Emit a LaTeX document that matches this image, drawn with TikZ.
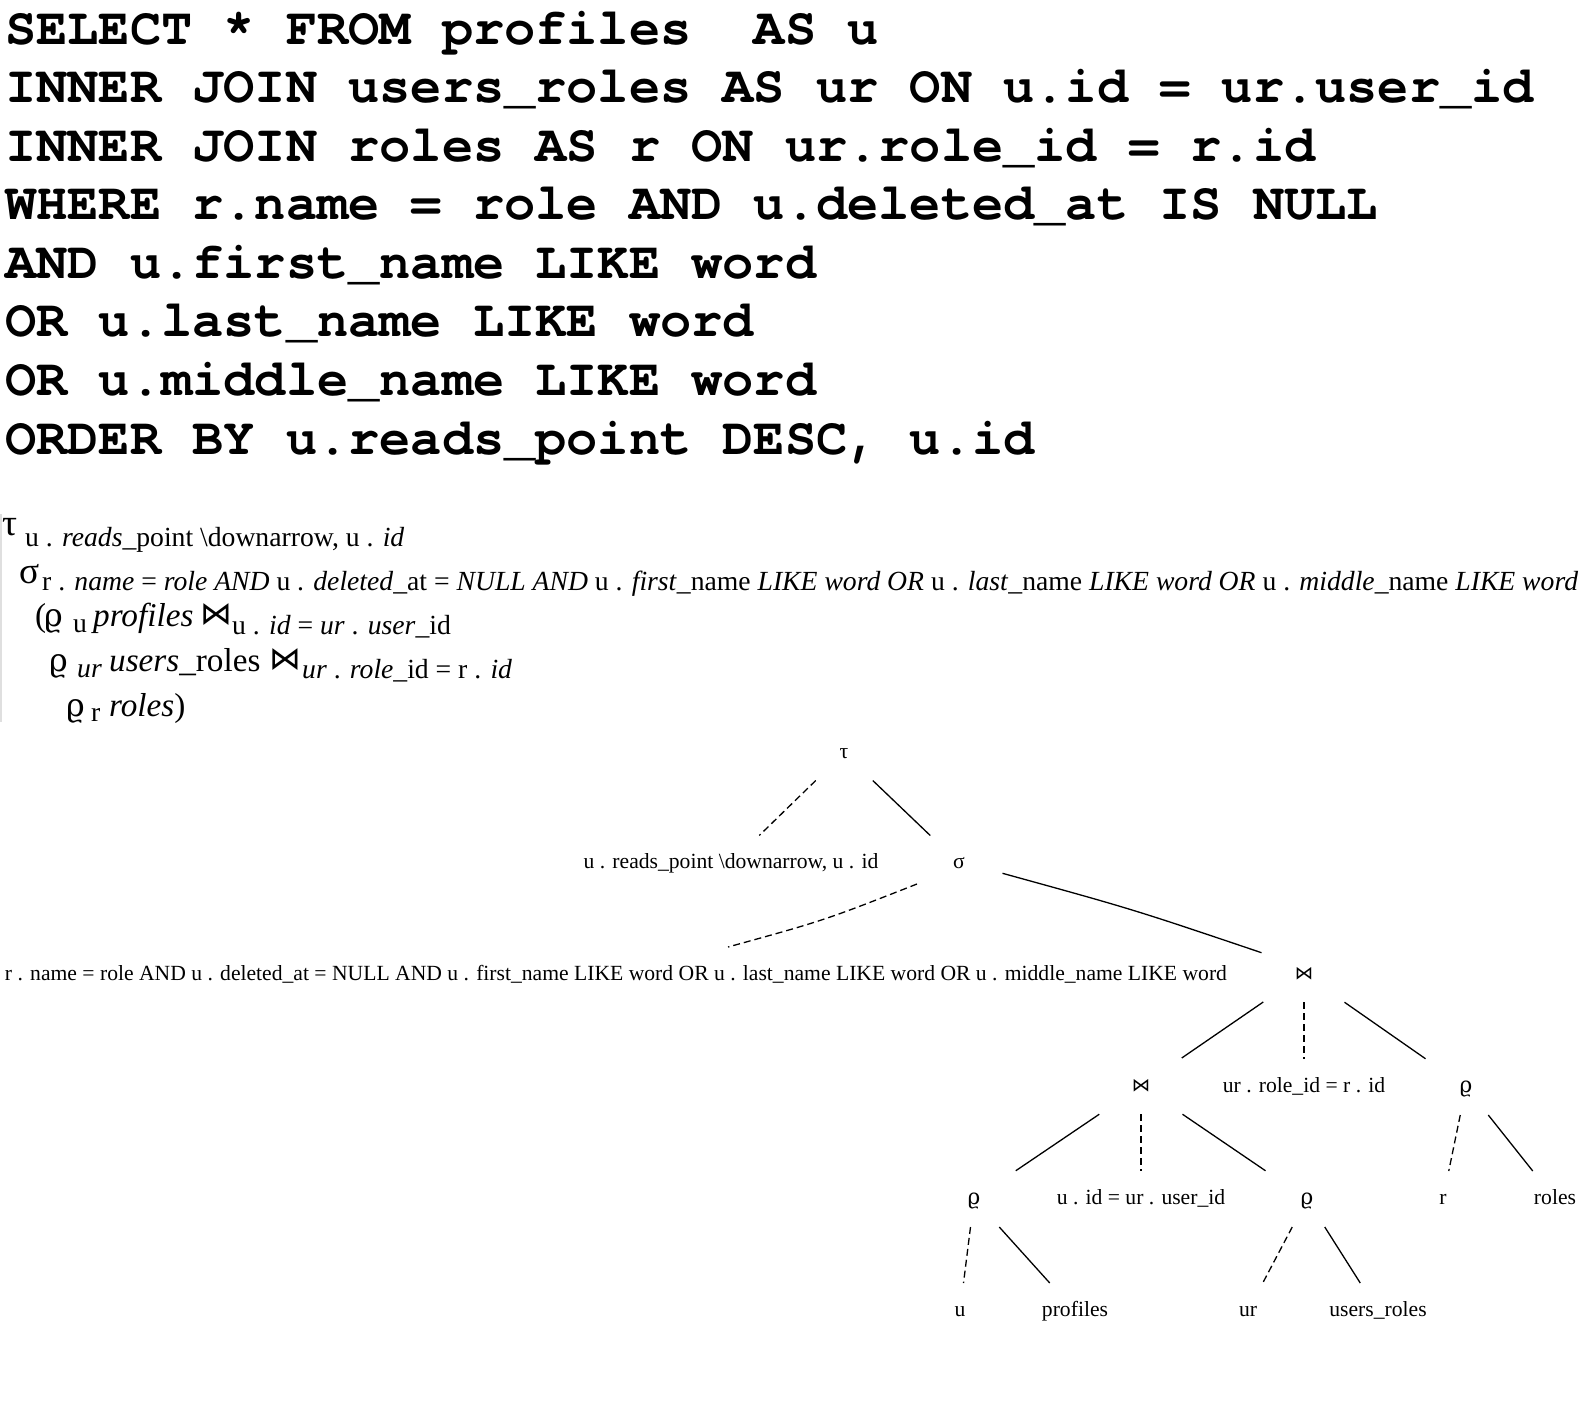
\documentclass[tikz,border=0pt]{standalone}
\usepackage{fontspec}
\setmainfont{Liberation Serif}
\newfontfamily\sqlfont{TeX Gyre Cursor}[Ligatures={NoCommon}]
\newfontfamily\symfnt{DejaVu Sans}
\newfontfamily\rhofnt{DejaVu Serif}
\usetikzlibrary{calc}
\newlength\fitlen
\newcommand\condRA{r . \textit{name} = \textit{role AND} u . \textit{deleted}\_at = \textit{NULL AND} u . \textit{first}\_name \textit{LIKE word OR} u . \textit{last}\_name \textit{LIKE word OR} u . \textit{middle}\_name \textit{LIKE word}}
\newcommand\condTree{r . name = role AND u . deleted\_at = NULL AND u . first\_name LIKE word OR u . last\_name LIKE word OR u . middle\_name LIKE word}
\newcommand\vrho{{\rhofnt\char"03F1}}
\newcommand\bowt{{\symfnt\char"22C8}}
\newcommand\tedge[3]{\draw[#1] ($(#2.base)!0.25!(#3.base)+(0,-5)$) -- ($(#2.base)!0.75!(#3.base)+(0,-5)$);}
\tikzset{
  sqlline/.style={anchor=base west, inner sep=0pt, font=\sqlfont\bfseries\fontsize{52}{58}\selectfont},
  rasub/.style={anchor=base west, inner sep=0pt, font=\fontsize{\rasize}{\rasize}\selectfont},
  ramain/.style={anchor=base west, inner sep=0pt, font=\fontsize{\ramainsize}{\ramainsize}\selectfont},
  raop/.style={anchor=base west, inner sep=0pt, font=\fontsize{\raopsize}{\raopsize}\selectfont},
  rarho/.style={anchor=base west, inner sep=0pt, font=\fontsize{\rarhosize}{\rarhosize}\selectfont},
  treetxt/.style={anchor=base, inner sep=0pt, font=\fontsize{\trsize}{\trsize}\selectfont},
  treeop/.style={anchor=base, inner sep=0pt, font=\fontsize{\trop}{\trop}\selectfont},
  solidedge/.style={line width=1.3pt, black},
  dashededge/.style={line width=1.3pt, black, dash pattern=on 7pt off 4pt},
}
\begin{document}
\settowidth\fitlen{\fontsize{10}{12}\selectfont\condRA}%
\pgfmathsetmacro\rasize{10*1536/\fitlen}%
\pgfmathsetmacro\ramainsize{1.2*\rasize}%
\pgfmathsetmacro\raopsize{1.35*\rasize}%
\pgfmathsetmacro\rarhosize{1.15*\rasize}%
\settowidth\fitlen{\fontsize{10}{12}\selectfont\condTree}%
\pgfmathsetmacro\trsize{10*1222/\fitlen}%
\pgfmathsetmacro\trop{0.85*\trsize}%
\begin{tikzpicture}[x=1pt,y=-1pt]
\useasboundingbox (0,0) rectangle (1582,1404);
\fill[white] (0,0) rectangle (1582,1404);
% SQL
\node[sqlline] (q1) at (5,44.5) {SELECT * FROM profiles\ \ AS u};
\node[sqlline] (q2) at (5,103) {INNER JOIN users\_roles AS ur ON u.id = ur.user\_id};
\node[sqlline] (q3) at (5,161.5) {INNER JOIN roles AS r ON ur.role\_id = r.id};
\node[sqlline] (q4) at (5,220) {WHERE r.name = role AND u.deleted\_at IS NULL};
\node[sqlline] (q5) at (5,278.5) {AND u.first\_name LIKE word};
\node[sqlline] (q6) at (5,337) {OR u.last\_name LIKE word};
\node[sqlline] (q7) at (5,395.5) {OR u.middle\_name LIKE word};
\node[sqlline] (q8) at (5,454) {ORDER BY u.reads\_point DESC, u.id};
% relational algebra expression
\draw[gray!25, line width=2pt] (1,514) -- (1,722);
\node[raop] (a1) at (2,535) {τ};
\node[rasub] (a1s) at (25,546) {u . \textit{reads}\_point \textbackslash downarrow, u . \textit{id}};
\node[raop] (a2) at (19,583) {σ};
\node[rasub] (a2s) at (42,590) {\condRA};
\node[ramain] (a3) at (35,626) {(};
\node[rarho] (a3r) at (44,626) {\vrho};
\node[rasub] (a3u) at (73,632) {u};
\node[ramain] (a3p) at (93,626) {\textit{profiles}};
\node[rarho] (a3j) at (200,624) {\bowt};
\node[rasub] (a3s) at (232,634) {u . \textit{id} = \textit{ur} . \textit{user}\_id};
\node[rarho] (a4) at (49,671) {\vrho};
\node[rasub] (a4u) at (77,677) {\textit{ur}};
\node[ramain] (a4p) at (109,671) {\textit{users}\_roles};
\node[rarho] (a4j) at (269,669) {\bowt};
\node[rasub] (a4s) at (302,678) {\textit{ur} . \textit{role}\_id = r . \textit{id}};
\node[rarho] (a5) at (66,716) {\vrho};
\node[rasub] (a5u) at (91,721) {r};
\node[ramain] (a5p) at (109,716) {\textit{roles})};
% tree
\node[treetxt] (t) at (844,758) {τ};
\node[treetxt] (rd) at (731,868) {u . reads\_point \textbackslash downarrow, u . id};
\node[treetxt] (s) at (959,868) {σ};
\node[treetxt] (c1) at (616,980) {\condTree};
\node[treeop] (j1) at (1304,979) {\bowt};
\node[treeop] (j2) at (1141,1091) {\bowt};
\node[treetxt] (c2) at (1304,1092) {ur . role\_id = r . id};
\node[treetxt] (p1) at (1466,1092) {\vrho};
\node[treetxt] (p2) at (974,1204) {\vrho};
\node[treetxt] (c3) at (1141,1204) {u . id = ur . user\_id};
\node[treetxt] (p3) at (1307,1204) {\vrho};
\node[treetxt] (r) at (1443,1204) {r};
\node[treetxt] (roles) at (1555,1204) {roles};
\node[treetxt] (u) at (960,1316) {u};
\node[treetxt] (prof) at (1075,1316) {profiles};
\node[treetxt] (ur) at (1248,1316) {ur};
\node[treetxt] (urs) at (1378,1316) {users\_roles};
\tedge{dashededge}{t}{rd}
\tedge{solidedge}{t}{s}
\draw[dashededge] ($(s.base)+(-42,16)$) .. controls ($(s.base)+(-135,52.5)$) .. ($(c1.base)+(112,-33)$);
\draw[solidedge] ($(s.base)+(43.5,5.3)$) .. controls ($(s.base)+(173.7,41.2)$) .. ($(j1.base)+(-42.5,-26.3)$);
\tedge{solidedge}{j1}{j2}
\tedge{dashededge}{j1}{c2}
\tedge{solidedge}{j1}{p1}
\tedge{solidedge}{j2}{p2}
\tedge{dashededge}{j2}{c3}
\tedge{solidedge}{j2}{p3}
\tedge{dashededge}{p1}{r}
\tedge{solidedge}{p1}{roles}
\tedge{dashededge}{p2}{u}
\tedge{solidedge}{p2}{prof}
\tedge{dashededge}{p3}{ur}
\tedge{solidedge}{p3}{urs}
\end{tikzpicture}
\end{document}
